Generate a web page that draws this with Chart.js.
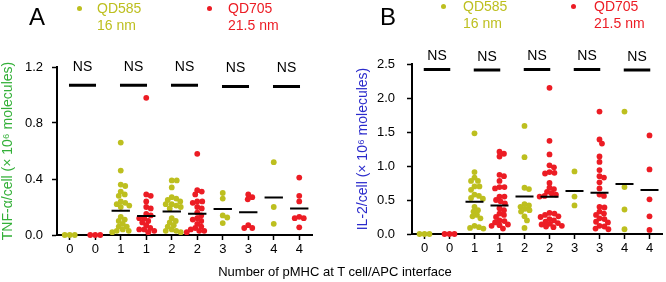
<!DOCTYPE html>
<html>
<head>
<meta charset="utf-8">
<script src="https://cdn.jsdelivr.net/npm/chart.js@4.4.1/dist/chart.umd.min.js"></script>
<style>
  html, body { margin: 0; padding: 0; background: #fff; }
  body { width: 666px; height: 282px; position: relative; overflow: hidden;
         font-family: "Liberation Sans", Arial, sans-serif; }
  .panel { position: absolute; top: 0; width: 333px; height: 282px; }
  .txt { position: absolute; white-space: nowrap; }
  .letter { font-size: 24px; line-height: 24px; color: #000; }
  .leg { font-size: 14px; line-height: 17px; }
  .dot { position: absolute; width: 5px; height: 5px; border-radius: 50%; }
  .xtitle { font-size: 13px; line-height: 15px; color: #000; }
</style>
</head>
<body>
<div class="panel" style="left:0"><canvas id="chartA" width="333" height="282"></canvas></div>
<div class="panel" style="left:333px"><canvas id="chartB" width="333" height="282"></canvas></div>

<!-- panel letters + legends -->
<div class="txt letter" style="left:29px;top:5px">A</div>
<div class="dot" style="left:77px;top:6px;background:#bdbf1f"></div>
<div class="txt leg" style="left:97px;top:0;color:#bdbf1f">QD585<br>16 nm</div>
<div class="dot" style="left:207px;top:6px;background:#ec1c24"></div>
<div class="txt leg" style="left:228px;top:0;color:#ec1c24">QD705<br>21.5 nm</div>

<div class="txt letter" style="left:380px;top:5px">B</div>
<div class="dot" style="left:441px;top:4px;background:#bdbf1f"></div>
<div class="txt leg" style="left:463px;top:-2px;color:#bdbf1f">QD585<br>16 nm</div>
<div class="dot" style="left:571px;top:4px;background:#ec1c24"></div>
<div class="txt leg" style="left:594px;top:-2px;color:#ec1c24">QD705<br>21.5 nm</div>

<div class="txt xtitle" style="left:0;width:670px;text-align:center;top:264px">Number of pMHC at T cell/APC interface</div>

<script>
// ---------- data ----------
const groups = ['0', '0', '1', '1', '2', '2', '3', '3', '4', '4'];

// panel A: TNF-alpha per cell (x 10^6 molecules), one list per pMHC number 0..4
const tnf585 = [
  [0, 0, 0],
  [0.66, 0.46, 0.36, 0.35, 0.31, 0.29, 0.28, 0.24, 0.23, 0.22, 0.21, 0.20, 0.13, 0.11, 0.10, 0.08, 0.06, 0.06, 0.04, 0.03, 0.03, 0.02],
  [0.39, 0.39, 0.34, 0.27, 0.26, 0.25, 0.24, 0.22, 0.22, 0.21, 0.20, 0.19, 0.12, 0.10, 0.09, 0.07, 0.06, 0.04, 0.03, 0.03, 0.02],
  [0.30, 0.26, 0.14, 0.125, 0.085],
  [0.52, 0.20, 0.08]
];
const tnf705 = [
  [0, 0, 0],
  [0.98, 0.29, 0.28, 0.24, 0.20, 0.19, 0.15, 0.14, 0.12, 0.12, 0.10, 0.09, 0.07, 0.05, 0.04, 0.04, 0.03, 0.02],
  [0.58, 0.32, 0.31, 0.29, 0.24, 0.24, 0.23, 0.20, 0.19, 0.16, 0.14, 0.12, 0.11, 0.10, 0.08, 0.06, 0.05, 0.04, 0.03, 0.03, 0.02],
  [0.29, 0.27, 0.255, 0.07, 0.05, 0.05],
  [0.41, 0.28, 0.24, 0.13, 0.12, 0.12, 0.055]
];
const tnfMean585 = [null, 0.174, 0.167, 0.185, 0.267];
const tnfMean705 = [null, 0.136, 0.152, 0.162, 0.19];
const tnfNS = [1.07, 1.07, 1.07, 1.06, 1.06];
const tnfTicks = [0, 0.4, 0.8, 1.2];

// panel B: IL-2 per cell (x 10^6 molecules)
const il585 = [
  [0, 0, 0],
  [1.48, 0.91, 0.83, 0.78, 0.78, 0.70, 0.70, 0.65, 0.58, 0.56, 0.53, 0.52, 0.40, 0.35, 0.33, 0.28, 0.26, 0.23, 0.12, 0.10, 0.09, 0.08],
  [1.59, 1.13, 0.68, 0.66, 0.44, 0.42, 0.40, 0.37, 0.35, 0.33, 0.26, 0.20, 0.09],
  [0.92, 0.55, 0.42],
  [1.80, 0.69, 0.36, 0.07]
];
const il705 = [
  [0, 0, 0],
  [1.21, 1.18, 1.14, 0.87, 0.85, 0.78, 0.69, 0.69, 0.67, 0.55, 0.55, 0.50, 0.48, 0.45, 0.38, 0.35, 0.30, 0.28, 0.25, 0.20, 0.19, 0.17, 0.14, 0.13, 0.12, 0.08],
  [2.15, 1.37, 1.17, 1.01, 0.98, 0.91, 0.90, 0.89, 0.75, 0.68, 0.66, 0.62, 0.60, 0.58, 0.56, 0.55, 0.31, 0.30, 0.28, 0.26, 0.25, 0.22, 0.20, 0.18, 0.16, 0.15, 0.14, 0.12, 0.11, 0.10],
  [1.80, 1.39, 1.33, 1.14, 1.06, 0.94, 0.85, 0.83, 0.76, 0.67, 0.58, 0.56, 0.40, 0.39, 0.33, 0.30, 0.28, 0.23, 0.22, 0.18, 0.17, 0.12, 0.11, 0.08, 0.07],
  [1.45, 0.95, 0.51, 0.26, 0.06]
];
const ilMean585 = [null, 0.476, 0.55, 0.632, 0.735];
const ilMean705 = [null, 0.42, 0.549, 0.608, 0.647];
const ilNS = [2.42, 2.41, 2.42, 2.42, 2.41];
const ilTicks = [0, 0.5, 1.0, 1.5, 2.0, 2.5];

// ---------- style ----------
const FONT = '"Liberation Sans", Arial, sans-serif';
const YELLOW = '#bdbf1f';
const RED = '#ec1c24';
const Y_WIDTH = 57;
const DOT_R = 2.9;

// ---------- helpers ----------
// simple beeswarm: spread points sideways so dots don't sit on each other
function swarm(lists, side, pxX, pxY) {
  const out = [];
  const minD = 4.6;
  lists.forEach((vals, g) => {
    const center = 2 * g + side;
    const placed = [];
    vals.forEach(v => {
      const py = v * pxY;
      let dx = 0;
      for (let k = 0; k < 400; k++) {
        const cand = k === 0 ? 0 : (k % 2 ? 1 : -1) * Math.ceil(k / 2) * 0.5;
        const hit = placed.some(p => (p.x - cand) ** 2 + (p.y - py) ** 2 < minD * minD);
        if (!hit) { dx = cand; break; }
      }
      placed.push({ x: dx, y: py });
      out.push({ x: center + dx / pxX, y: v });
    });
  });
  return out;
}

function meanSegs(means, side) {
  const out = [];
  means.forEach((m, g) => {
    if (m === null) return;
    const c = 2 * g + side;
    out.push({ x: c - 0.36, y: m }, { x: c + 0.36, y: m }, { x: c, y: null });
  });
  return out;
}

function nsSegs(ns) {
  const out = [];
  ns.forEach((v, i) => {
    out.push({ x: 2 * i - 0.03, y: v }, { x: 2 * i + 1.03, y: v }, { x: 2 * i + 0.5, y: null });
  });
  return out;
}

// "NS" labels above the significance bars
const nsLabels = {
  id: 'nsLabels',
  afterDatasetsDraw(chart, args, opts) {
    const { ctx } = chart;
    const xs = chart.scales.x, ys = chart.scales.y;
    ctx.save();
    ctx.font = '14px ' + FONT;
    ctx.fillStyle = '#000';
    ctx.textAlign = 'center';
    ctx.textBaseline = 'middle';
    opts.values.forEach((v, i) => {
      ctx.fillText('NS', xs.getPixelForValue(2 * i + 0.5), ys.getPixelForValue(v) - opts.gap);
    });
    ctx.restore();
  }
};

function makeChart(id, c) {
  const pxX = (333 - c.padLeft - Y_WIDTH - c.padRight) / 10;
  const pxY = (c.areaBottom - c.padTop) / c.yMax;
  return new Chart(document.getElementById(id), {
    type: 'scatter',
    data: {
      datasets: [
        { type: 'line', data: meanSegs(c.m585, 0).concat([{ x: 0, y: null }], meanSegs(c.m705, 1)),
          borderColor: '#000', borderWidth: 2, pointRadius: 0, spanGaps: false, clip: false },
        { type: 'line', data: nsSegs(c.ns), borderColor: '#000', borderWidth: 3,
          pointRadius: 0, spanGaps: false, clip: false },
        { label: 'QD585 16 nm', data: swarm(c.s585, 0, pxX, pxY), backgroundColor: YELLOW,
          borderWidth: 0, pointRadius: DOT_R, clip: false },
        { label: 'QD705 21.5 nm', data: swarm(c.s705, 1, pxX, pxY), backgroundColor: RED,
          borderWidth: 0, pointRadius: DOT_R, clip: false }
      ]
    },
    options: {
      responsive: false,
      animation: false,
      events: [],
      layout: { padding: { left: c.padLeft, top: c.padTop, right: c.padRight, bottom: 0 } },
      plugins: {
        legend: { display: false },
        tooltip: { enabled: false },
        nsLabels: { values: c.ns, gap: c.nsGap }
      },
      scales: {
        x: {
          type: 'linear', min: -0.5, max: 9.5,
          afterBuildTicks: s => { s.ticks = groups.map((g, i) => ({ value: i })); },
          afterFit: s => { s.height = 282 - c.areaBottom; },
          ticks: { callback: v => groups[v], color: '#000', font: { family: FONT, size: 13 },
                   padding: 2, maxRotation: 0, autoSkip: false },
          grid: { drawOnChartArea: false, tickLength: 5, tickWidth: 1.5, tickColor: '#000' },
          border: { color: '#000', width: 2 }
        },
        y: {
          min: 0, max: c.yMax,
          afterBuildTicks: s => { s.ticks = c.ticks.map(v => ({ value: v })); },
          afterFit: s => { s.width = Y_WIDTH; },
          ticks: { callback: v => v.toFixed(1), color: '#000', font: { family: FONT, size: 13 },
                   padding: c.tickPad },
          grid: { drawOnChartArea: false, tickLength: 5, tickWidth: 1.5, tickColor: '#000' },
          border: { color: '#000', width: 2 },
          title: { display: true, text: c.title, color: c.titleColor,
                   font: { family: FONT, size: 14 }, padding: 0 }
        }
      }
    },
    plugins: [nsLabels]
  });
}

makeChart('chartA', {
  s585: tnf585, s705: tnf705, m585: tnfMean585, m705: tnfMean705, ns: tnfNS,
  ticks: tnfTicks, yMax: 1.2, title: 'TNF-\u03b1/cell (\u00d7 10\u2076 molecules)', titleColor: '#34b039',
  padLeft: 0, padTop: 67, padRight: 21, areaBottom: 235, nsGap: 18, tickPad: 9
});

makeChart('chartB', {
  s585: il585, s705: il705, m585: ilMean585, m705: ilMean705, ns: ilNS,
  ticks: ilTicks, yMax: 2.5, title: 'IL-2/cell (\u00d7 10\u2076 molecules)', titleColor: '#2b2bcc',
  padLeft: 22, padTop: 64, padRight: 1, areaBottom: 234, nsGap: 13, tickPad: 12
});
</script>
</body>
</html>
